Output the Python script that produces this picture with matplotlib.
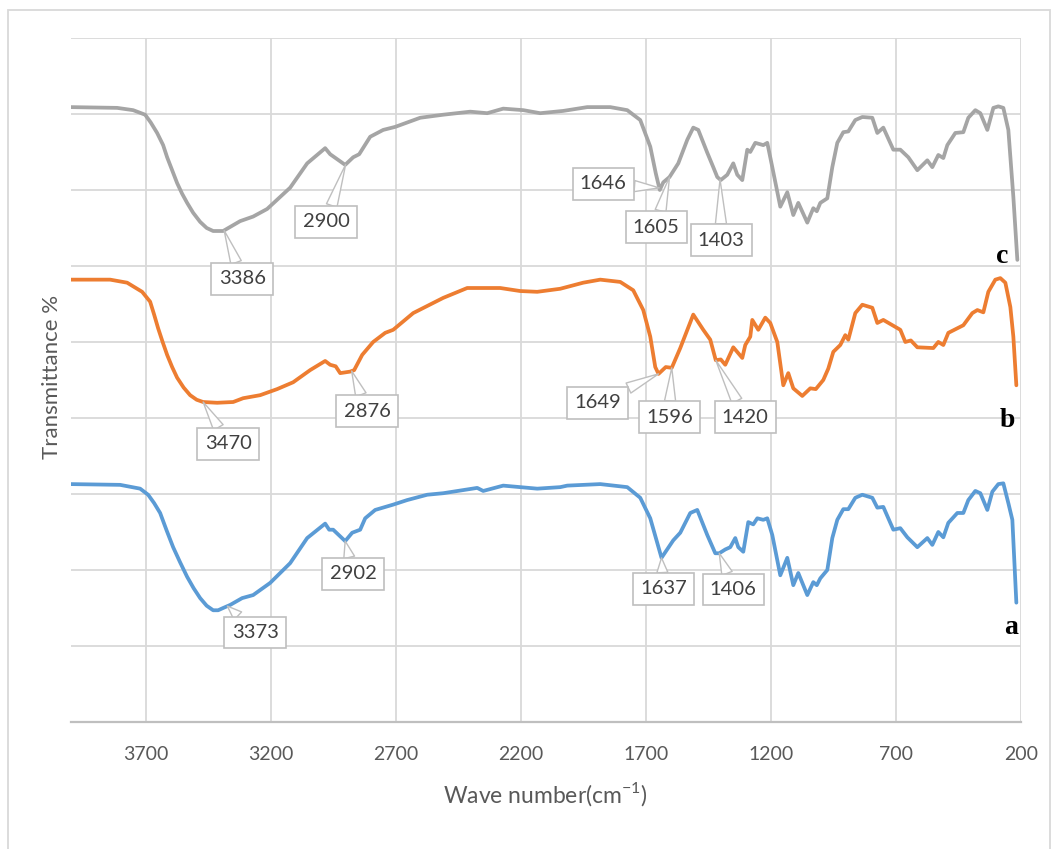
import numpy as np
import matplotlib
matplotlib.use("Agg")
import matplotlib.pyplot as plt
from matplotlib.patches import Rectangle

plt.rcParams["font.family"] = ["Lato", "DejaVu Sans"]
plt.rcParams["mathtext.fontset"] = "custom"
plt.rcParams["mathtext.rm"] = "Lato"

# FTIR spectra, wavenumber (cm-1) vs. transmittance (offset, arbitrary units)
c_wn = [4000, 3814, 3750, 3702, 3680, 3654, 3630, 3614, 3594, 3574, 3554, 3534, 3510,
        3482, 3456, 3430, 3390, 3322, 3270,
        3214, 3122, 3054, 2982, 2962, 2902, 2870, 2846, 2802, 2750, 2702, 2602, 2510,
        2402, 2334, 2270, 2190, 2122, 2030, 1934, 1842, 1774, 1722, 1682, 1660, 1644,
        1630, 1605, 1570, 1534, 1510, 1490, 1454, 1430, 1414, 1400, 1374, 1350, 1334,
        1314, 1294, 1282, 1262, 1230, 1214, 1194, 1162, 1134, 1110, 1090, 1054, 1030,
        1016, 1002, 974, 954, 934, 910, 890, 862, 834, 794, 774, 750, 710, 682, 650,
        614, 574, 554, 530, 510, 494, 462, 430, 410, 382, 362, 334, 310, 290, 270, 250,
        230, 214]
c_t = [8.09, 8.08, 8.05, 7.99, 7.89, 7.75, 7.59, 7.43, 7.26, 7.09, 6.95, 6.83, 6.70,
       6.58, 6.50, 6.46, 6.46, 6.59, 6.65,
       6.75, 7.03, 7.35, 7.55, 7.47, 7.33, 7.43, 7.47, 7.70, 7.79, 7.83, 7.95, 7.99,
       8.03, 8.01, 8.07, 8.05, 8.01, 8.04, 8.09, 8.09, 8.05, 7.92, 7.57, 7.22, 7.00,
       7.10, 7.17, 7.35, 7.66, 7.82, 7.79, 7.49, 7.30, 7.17, 7.13, 7.20, 7.35, 7.20,
       7.13, 7.53, 7.50, 7.62, 7.59, 7.62, 7.30, 6.78, 6.97, 6.67, 6.83, 6.57, 6.76,
       6.72, 6.83, 6.89, 7.30, 7.62, 7.76, 7.77, 7.92, 7.96, 7.95, 7.75, 7.82, 7.53,
       7.53, 7.43, 7.26, 7.39, 7.30, 7.46, 7.42, 7.59, 7.75, 7.76, 7.95, 8.05, 8.01,
       7.79, 8.08, 8.10, 8.08, 7.79, 6.91, 6.08]

b_wn = [4000, 3842, 3774, 3714, 3682, 3666, 3650, 3632, 3614, 3594, 3574, 3548, 3522,
        3496, 3470, 3414, 3350, 3310,
        3242, 3174, 3110, 3042, 2982, 2962, 2940, 2922, 2882, 2866, 2834, 2790, 2742,
        2710, 2630, 2510, 2414, 2282, 2202, 2134, 2042, 1950, 1882, 1802, 1750, 1710,
        1682, 1662, 1649, 1620, 1596, 1562, 1510, 1470, 1442, 1420, 1400, 1382, 1350,
        1314, 1302, 1282, 1274, 1250, 1222, 1202, 1174, 1150, 1130, 1110, 1074, 1042,
        1020, 990, 970, 950, 922, 902, 890, 862, 834, 794, 774, 750, 682, 662, 640,
        614, 550, 530, 510, 490, 430, 394, 374, 350, 330, 302, 282, 262, 242, 230, 218]
b_t = [5.82, 5.82, 5.78, 5.66, 5.53, 5.36, 5.18, 5.00, 4.83, 4.67, 4.53, 4.40, 4.30,
       4.24, 4.21, 4.20, 4.21, 4.26,
       4.30, 4.38, 4.47, 4.63, 4.75, 4.70, 4.68, 4.59, 4.61, 4.63, 4.83, 5.00, 5.12,
       5.16, 5.38, 5.58, 5.71, 5.71, 5.67, 5.66, 5.70, 5.78, 5.82, 5.79, 5.68, 5.42,
       5.07, 4.67, 4.58, 4.67, 4.66, 4.92, 5.36, 5.16, 5.03, 4.76, 4.77, 4.70, 4.93,
       4.79, 4.96, 5.07, 5.29, 5.16, 5.32, 5.25, 5.00, 4.43, 4.59, 4.39, 4.29, 4.39,
       4.38, 4.50, 4.65, 4.87, 4.96, 5.09, 5.03, 5.38, 5.49, 5.45, 5.25, 5.29, 5.16,
       5.00, 5.02, 4.93, 4.92, 5.00, 4.96, 5.12, 5.22, 5.38, 5.42, 5.39, 5.66, 5.82,
       5.84, 5.78, 5.46, 5.07, 4.43]

a_wn = [4000, 3802, 3722, 3690, 3666, 3642, 3616, 3590, 3562, 3534, 3508, 3482, 3456,
        3430, 3410, 3390, 3362, 3314, 3270,
        3202, 3122, 3054, 2982, 2966, 2950, 2902, 2874, 2842, 2822, 2782, 2710, 2654,
        2574, 2510, 2374, 2350, 2270, 2202, 2134, 2042, 2014, 1882, 1774, 1722, 1682,
        1637, 1590, 1562, 1522, 1494, 1454, 1422, 1406, 1382, 1362, 1342, 1330, 1310,
        1290, 1270, 1254, 1230, 1214, 1194, 1162, 1134, 1110, 1090, 1054, 1030, 1016,
        1002, 974, 954, 934, 910, 890, 862, 834, 794, 774, 750, 710, 682, 654, 614,
        574, 554, 530, 510, 490, 454, 430, 410, 382, 362, 334, 314, 290, 270, 250, 234,
        218]
a_t = [3.13, 3.12, 3.07, 2.99, 2.88, 2.75, 2.52, 2.30, 2.10, 1.91, 1.76, 1.63, 1.53,
       1.47, 1.47, 1.50, 1.54, 1.63, 1.67,
       1.83, 2.09, 2.42, 2.61, 2.53, 2.53, 2.38, 2.49, 2.53, 2.68, 2.79, 2.86, 2.92,
       2.99, 3.01, 3.08, 3.04, 3.11, 3.09, 3.07, 3.09, 3.11, 3.13, 3.09, 2.95, 2.68,
       2.16, 2.39, 2.49, 2.75, 2.79, 2.46, 2.22, 2.22, 2.27, 2.30, 2.42, 2.30, 2.24,
       2.63, 2.60, 2.68, 2.66, 2.68, 2.46, 1.93, 2.16, 1.80, 1.96, 1.67, 1.84, 1.80,
       1.89, 2.00, 2.42, 2.66, 2.80, 2.80, 2.95, 2.99, 2.95, 2.82, 2.83, 2.53, 2.55,
       2.43, 2.30, 2.42, 2.33, 2.50, 2.43, 2.62, 2.75, 2.75, 2.92, 3.04, 3.01, 2.79,
       3.03, 3.13, 3.14, 2.88, 2.66, 1.57]

# labelled bands per spectrum
c_peaks = [3386, 2900, 1646, 1605, 1403]
b_peaks = [3470, 2876, 1649, 1596, 1420]
a_peaks = [3373, 2902, 1637, 1406]

# where each callout box sits (wavenumber, transmittance)
c_boxes = [(3314, 5.83), (2978, 6.58), (1870, 7.08), (1658, 6.51), (1398, 6.34)]
b_boxes = [(3370, 3.66), (2814, 4.09), (1894, 4.20), (1606, 4.01), (1302, 4.01)]
a_boxes = [(3262, 1.18), (2870, 1.95), (1630, 1.75), (1350, 1.74)]

xticks = [3700, 3200, 2700, 2200, 1700, 1200, 700, 200]

fig = plt.figure(figsize=(10.57, 8.49), dpi=100)
ax = fig.add_axes([0.0668, 0.1496, 0.8990, 0.8057])

fig.patches.append(Rectangle((0.0076, -0.02), 0.9858, 1.008, transform=fig.transFigure,
                             fill=False, ec="#d9d9d9", lw=1.3, zorder=0))

series = [
    (a_wn, a_t, "#5B9BD5", a_peaks, a_boxes, "a", (238, 1.24)),
    (b_wn, b_t, "#ED7D31", b_peaks, b_boxes, "b", (254, 3.97)),
    (c_wn, c_t, "#A5A5A5", c_peaks, c_boxes, "c", (274, 6.12)),
]

for wn, t, color, peaks, boxes, name, name_pos in series:
    ax.plot(wn, t, color=color, lw=2.7, solid_joinstyle="round",
            solid_capstyle="round", zorder=3)
    wn_r = np.array(wn)[::-1]
    t_r = np.array(t)[::-1]
    for p, (bx, by) in zip(peaks, boxes):
        ax.annotate(
            str(p), xy=(p, np.interp(p, wn_r, t_r)), xytext=(bx, by),
            ha="center", va="center", fontsize=14.5, color="#404040", zorder=5,
            bbox=dict(boxstyle="square,pad=0.36", fc="white", ec="#bfbfbf", lw=1.2),
            arrowprops=dict(arrowstyle="wedge,tail_width=0.55", fc="white",
                            ec="#bfbfbf", lw=1.0, shrinkA=0, shrinkB=0),
        )
    ax.text(name_pos[0], name_pos[1], name, ha="center", va="center",
            fontsize=20, fontweight="bold", family="Liberation Serif", zorder=6)

ax.set_xlim(4000, 200)
ax.set_ylim(0, 9)
ax.set_xticks(xticks)
ax.set_yticks(range(10))
ax.set_yticklabels([])
ax.tick_params(axis="both", length=0)
ax.tick_params(axis="x", pad=17, labelsize=14, labelcolor="#595959")
ax.grid(True, color="#d9d9d9", lw=1.3)
ax.set_axisbelow(True)
for side in ["top", "left", "right"]:
    ax.spines[side].set_visible(False)
ax.spines["bottom"].set_color("#bfbfbf")
ax.spines["bottom"].set_linewidth(1.6)

ax.set_xlabel(r"Wave number(cm$^{\mathregular{-1}}$)", fontsize=16.5, color="#595959")
ax.xaxis.set_label_coords(0.5, -0.085)
ax.set_ylabel("Transmittance %", fontsize=16, color="#595959")
ax.yaxis.set_label_coords(-0.009, 0.504)

fig.savefig("out.png", dpi=100)
